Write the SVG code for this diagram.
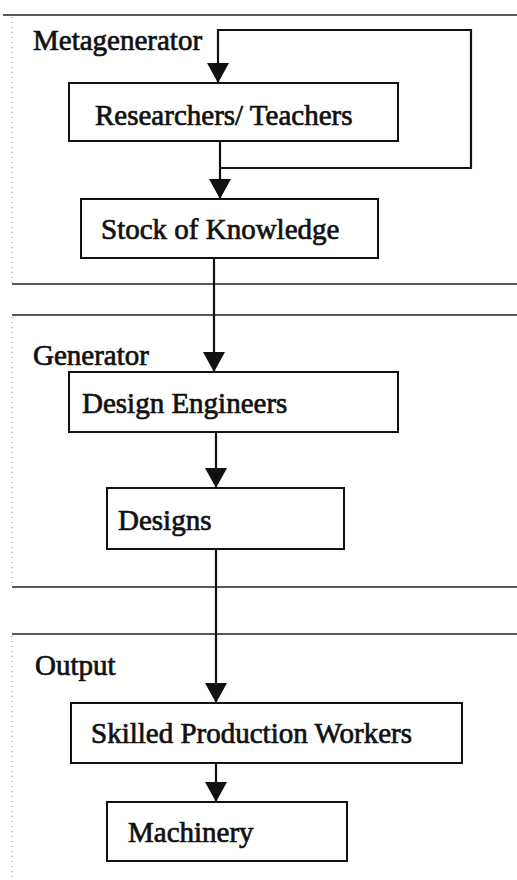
<svg xmlns="http://www.w3.org/2000/svg" width="517" height="880" viewBox="0 0 517 880">
<style>
.box{fill:#fff;stroke:#111;stroke-width:2}
.lbl{font-family:"Liberation Serif","Times New Roman",serif;font-size:29px;fill:#111;stroke:#111;stroke-width:0.7}
.sep{stroke:#222;stroke-width:1.5;fill:none}
.side{stroke:#888;stroke-width:1;stroke-dasharray:1 4;fill:none}
.con{stroke:#111;stroke-width:2.2;fill:none}
</style>
<defs>
<marker id="ah" viewBox="0 0 20 22" refX="20" refY="11" markerWidth="20" markerHeight="22" orient="auto" markerUnits="userSpaceOnUse">
<path d="M0,0 L20,11 L0,22 Z" fill="#111"/>
</marker>
</defs>
<g id="sections">
<line class="sep" x1="3" y1="15" x2="517" y2="15"/>
<line class="sep" x1="12" y1="284" x2="517" y2="284"/>
<line class="sep" x1="12" y1="315" x2="517" y2="315"/>
<line class="sep" x1="12" y1="587" x2="517" y2="587"/>
<line class="sep" x1="12" y1="634" x2="517" y2="634"/>
<line class="side" x1="12" y1="17" x2="12" y2="283"/>
<line class="side" x1="12" y1="317" x2="12" y2="586"/>
<line class="side" x1="12" y1="636" x2="12" y2="880"/>
<text class="lbl" x="33" y="50">Metagenerator</text>
<text class="lbl" x="33" y="365">Generator</text>
<text class="lbl" x="35" y="675">Output</text>
</g>
<g id="connectors">
<polyline class="con" points="220,168 471,168 471,30 218,30 218,83" marker-end="url(#ah)"/>
<line class="con" x1="220" y1="141" x2="220" y2="199" marker-end="url(#ah)"/>
<line class="con" x1="214" y1="258" x2="214" y2="372" marker-end="url(#ah)"/>
<line class="con" x1="216" y1="432" x2="216" y2="488" marker-end="url(#ah)"/>
<line class="con" x1="216" y1="549" x2="216" y2="703" marker-end="url(#ah)"/>
<line class="con" x1="216" y1="763" x2="216" y2="802" marker-end="url(#ah)"/>
</g>
<g id="researchers">
<rect class="box" x="69" y="83" width="329" height="58"/>
<text class="lbl" x="95" y="125">Researchers/ Teachers</text>
</g>
<g id="stock">
<rect class="box" x="81" y="199" width="297" height="59"/>
<text class="lbl" x="101" y="239">Stock of Knowledge</text>
</g>
<g id="design-engineers">
<rect class="box" x="69" y="372" width="329" height="60"/>
<text class="lbl" x="82" y="413">Design Engineers</text>
</g>
<g id="designs">
<rect class="box" x="107" y="488" width="237" height="61"/>
<text class="lbl" x="118" y="530">Designs</text>
</g>
<g id="skilled-workers">
<rect class="box" x="71" y="703" width="391" height="60"/>
<text class="lbl" x="91" y="743">Skilled Production Workers</text>
</g>
<g id="machinery">
<rect class="box" x="107" y="802" width="240" height="59"/>
<text class="lbl" x="128" y="842">Machinery</text>
</g>
</svg>
